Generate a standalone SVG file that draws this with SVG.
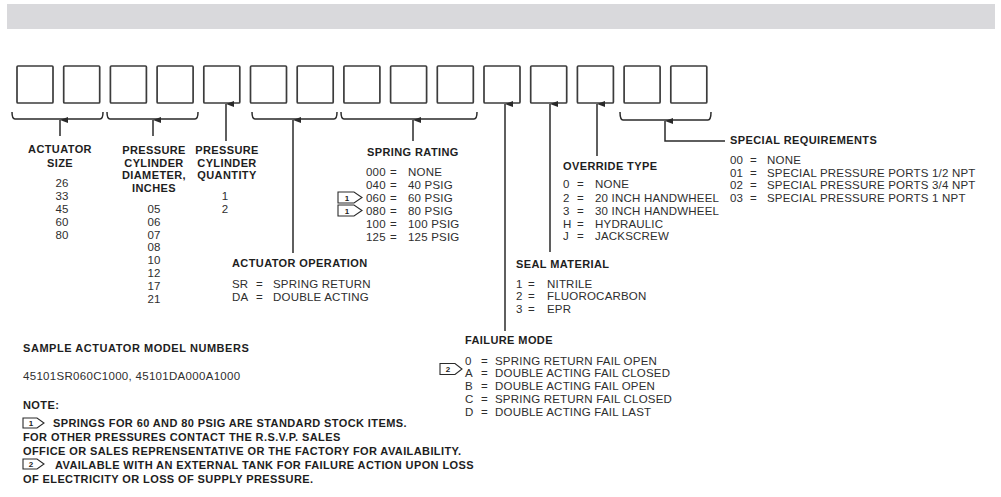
<svg xmlns="http://www.w3.org/2000/svg" width="1001" height="497" viewBox="0 0 1001 497">
<defs>
<style>
.box{fill:#fff;stroke:#3c3c3c;stroke-width:1.7}
.ln{fill:none;stroke:#2a2a2a;stroke-width:1.5}
.h{font-family:"Liberation Sans",Arial,sans-serif;font-weight:bold;font-size:11px;letter-spacing:0.4px;fill:#1e1e1e}
.v{font-family:"Liberation Sans",Arial,sans-serif;font-size:11.5px;letter-spacing:0.2px;fill:#2e2e2e}
.c{text-anchor:middle}
.flag{fill:#fff;stroke:#2a2a2a;stroke-width:1.1}
.ft{font-family:"Liberation Sans",Arial,sans-serif;font-weight:bold;font-size:8px;fill:#222;text-anchor:middle}
</style>
<marker id="ah" viewBox="0 0 6 8" refX="3" refY="0" markerWidth="6" markerHeight="8" orient="auto-start-reverse" markerUnits="userSpaceOnUse">
<path d="M0,8 L3,0 L6,8 Z" fill="#2a2a2a"/>
</marker>
</defs>
<rect width="1001" height="497" fill="#fff"/>
<rect id="band" x="7" y="4" width="988" height="25" fill="#d9d9dc"/>

<g id="boxes">
<rect class="box" x="17" y="66" width="36" height="37" rx="1"/>
<rect class="box" x="63.7" y="66" width="36" height="37" rx="1"/>
<rect class="box" x="110.4" y="66" width="36" height="37" rx="1"/>
<rect class="box" x="157.1" y="66" width="36" height="37" rx="1"/>
<rect class="box" x="203.8" y="66" width="36" height="37" rx="1"/>
<rect class="box" x="250.5" y="66" width="36" height="37" rx="1"/>
<rect class="box" x="297.2" y="66" width="36" height="37" rx="1"/>
<rect class="box" x="343.9" y="66" width="36" height="37" rx="1"/>
<rect class="box" x="390.6" y="66" width="36" height="37" rx="1"/>
<rect class="box" x="437.3" y="66" width="36" height="37" rx="1"/>
<rect class="box" x="484" y="66" width="36" height="37" rx="1"/>
<rect class="box" x="530.7" y="66" width="36" height="37" rx="1"/>
<rect class="box" x="577.4" y="66" width="36" height="37" rx="1"/>
<rect class="box" x="624.1" y="66" width="36" height="37" rx="1"/>
<rect class="box" x="670.8" y="66" width="36" height="37" rx="1"/>
</g>

<g id="connectors">
<path class="ln" d="M12,112 Q12,119 15,119 H100 Q103,119 103,112"/>
<path class="ln" d="M107,112 Q107,119 110,119 H195 Q198,119 198,112"/>
<path class="ln" d="M252,112 Q252,119 255,119 H334 Q337,119 337,112"/>
<path class="ln" d="M341,112 Q341,119 344,119 H474 Q477,119 477,112"/>
<path class="ln" d="M620,112 Q620,120 623,120 H708 Q711,120 711,112"/>
<line class="ln" x1="60" y1="136" x2="60" y2="120" marker-end="url(#ah)"/>
<line class="ln" x1="153" y1="136" x2="153" y2="120" marker-end="url(#ah)"/>
<line class="ln" x1="226" y1="141" x2="226" y2="104" marker-end="url(#ah)"/>
<line class="ln" x1="293" y1="253" x2="293" y2="120" marker-end="url(#ah)"/>
<line class="ln" x1="413" y1="141" x2="413" y2="120" marker-end="url(#ah)"/>
<line class="ln" x1="505" y1="331" x2="505" y2="104" marker-end="url(#ah)"/>
<line class="ln" x1="550" y1="252" x2="550" y2="104" marker-end="url(#ah)"/>
<line class="ln" x1="597" y1="156" x2="597" y2="104" marker-end="url(#ah)"/>
<path class="ln" d="M725,141 H665 V121" marker-end="url(#ah)"/>
</g>

<g id="actuator-size">
<text class="h c" x="60" y="153">ACTUATOR</text>
<text class="h c" x="60" y="167">SIZE</text>
<text class="v c" x="62" y="187">26</text>
<text class="v c" x="62" y="200">33</text>
<text class="v c" x="62" y="213">45</text>
<text class="v c" x="62" y="226">60</text>
<text class="v c" x="62" y="239">80</text>
</g>

<g id="cylinder-diameter">
<text class="h c" x="154" y="154">PRESSURE</text>
<text class="h c" x="154" y="167">CYLINDER</text>
<text class="h c" x="154" y="179">DIAMETER,</text>
<text class="h c" x="154" y="192">INCHES</text>
<text class="v c" x="154" y="213">05</text>
<text class="v c" x="154" y="226">06</text>
<text class="v c" x="154" y="239">07</text>
<text class="v c" x="154" y="251">08</text>
<text class="v c" x="154" y="264">10</text>
<text class="v c" x="154" y="277">12</text>
<text class="v c" x="154" y="290">17</text>
<text class="v c" x="154" y="303">21</text>
</g>

<g id="cylinder-quantity">
<text class="h c" x="227" y="154">PRESSURE</text>
<text class="h c" x="227" y="167">CYLINDER</text>
<text class="h c" x="227" y="179">QUANTITY</text>
<text class="v c" x="225" y="200">1</text>
<text class="v c" x="225" y="213">2</text>
</g>

<g id="actuator-operation">
<text class="h" x="232" y="267">ACTUATOR OPERATION</text>
<text class="v" y="288"><tspan x="232">SR</tspan><tspan x="256">=</tspan><tspan x="273">SPRING RETURN</tspan></text>
<text class="v" y="301"><tspan x="232">DA</tspan><tspan x="256">=</tspan><tspan x="273">DOUBLE ACTING</tspan></text>
</g>

<g id="spring-rating">
<text class="h" x="367" y="156">SPRING RATING</text>
<text class="v" y="176"><tspan x="366">000</tspan><tspan x="390">=</tspan><tspan x="408">NONE</tspan></text>
<text class="v" y="189"><tspan x="366">040</tspan><tspan x="390">=</tspan><tspan x="408">40 PSIG</tspan></text>
<text class="v" y="202"><tspan x="366">060</tspan><tspan x="390">=</tspan><tspan x="408">60 PSIG</tspan></text>
<text class="v" y="215"><tspan x="366">080</tspan><tspan x="390">=</tspan><tspan x="408">80 PSIG</tspan></text>
<text class="v" y="228"><tspan x="366">100</tspan><tspan x="390">=</tspan><tspan x="408">100 PSIG</tspan></text>
<text class="v" y="241"><tspan x="366">125</tspan><tspan x="390">=</tspan><tspan x="408">125 PSIG</tspan></text>
<path class="flag" d="M338,192 H354 L362,197.5 L354,203 H338 Z"/>
<text class="ft" x="347" y="200.5">1</text>
<path class="flag" d="M338,205 H354 L362,210.5 L354,216 H338 Z"/>
<text class="ft" x="347" y="213.5">1</text>
</g>

<g id="failure-mode">
<text class="h" x="465" y="344">FAILURE MODE</text>
<text class="v" y="365"><tspan x="465">0</tspan><tspan x="481">=</tspan><tspan x="495">SPRING RETURN FAIL OPEN</tspan></text>
<text class="v" y="377"><tspan x="465">A</tspan><tspan x="481">=</tspan><tspan x="495">DOUBLE ACTING FAIL CLOSED</tspan></text>
<text class="v" y="390"><tspan x="465">B</tspan><tspan x="481">=</tspan><tspan x="495">DOUBLE ACTING FAIL OPEN</tspan></text>
<text class="v" y="403"><tspan x="465">C</tspan><tspan x="481">=</tspan><tspan x="495">SPRING RETURN FAIL CLOSED</tspan></text>
<text class="v" y="416"><tspan x="465">D</tspan><tspan x="481">=</tspan><tspan x="495">DOUBLE ACTING FAIL LAST</tspan></text>
<path class="flag" d="M440,363.5 H455 L462,369 L455,374.5 H440 Z"/>
<text class="ft" x="448" y="372">2</text>
</g>

<g id="seal-material">
<text class="h" x="516" y="268">SEAL MATERIAL</text>
<text class="v" y="288"><tspan x="516">1</tspan><tspan x="528">=</tspan><tspan x="547">NITRILE</tspan></text>
<text class="v" y="300"><tspan x="516">2</tspan><tspan x="528">=</tspan><tspan x="547">FLUOROCARBON</tspan></text>
<text class="v" y="313"><tspan x="516">3</tspan><tspan x="528">=</tspan><tspan x="547">EPR</tspan></text>
</g>

<g id="override-type">
<text class="h" x="563" y="170">OVERRIDE TYPE</text>
<text class="v" y="188"><tspan x="563">0</tspan><tspan x="577">=</tspan><tspan x="595">NONE</tspan></text>
<text class="v" y="202"><tspan x="563">2</tspan><tspan x="577">=</tspan><tspan x="595">20 INCH HANDWHEEL</tspan></text>
<text class="v" y="215"><tspan x="563">3</tspan><tspan x="577">=</tspan><tspan x="595">30 INCH HANDWHEEL</tspan></text>
<text class="v" y="228"><tspan x="563">H</tspan><tspan x="577">=</tspan><tspan x="595">HYDRAULIC</tspan></text>
<text class="v" y="240"><tspan x="563">J</tspan><tspan x="577">=</tspan><tspan x="595">JACKSCREW</tspan></text>
</g>

<g id="special-requirements">
<text class="h" x="730" y="144">SPECIAL REQUIREMENTS</text>
<text class="v" y="164"><tspan x="730">00</tspan><tspan x="750">=</tspan><tspan x="767">NONE</tspan></text>
<text class="v" y="177"><tspan x="730">01</tspan><tspan x="750">=</tspan><tspan x="767">SPECIAL PRESSURE PORTS 1/2 NPT</tspan></text>
<text class="v" y="189"><tspan x="730">02</tspan><tspan x="750">=</tspan><tspan x="767">SPECIAL PRESSURE PORTS 3/4 NPT</tspan></text>
<text class="v" y="202"><tspan x="730">03</tspan><tspan x="750">=</tspan><tspan x="767">SPECIAL PRESSURE PORTS 1 NPT</tspan></text>
</g>

<g id="sample">
<text class="h" x="23" y="352" style="letter-spacing:0.55px">SAMPLE ACTUATOR MODEL NUMBERS</text>
<text class="v" x="23" y="380" style="letter-spacing:0.3px">45101SR060C1000, 45101DA000A1000</text>
</g>

<g id="notes">
<text class="h" x="23" y="409">NOTE:</text>
<path class="flag" d="M23,418 H37 L44,423 L37,428 H23 Z"/>
<text class="ft" x="31" y="426">1</text>
<text class="h" x="53" y="427">SPRINGS FOR 60 AND 80 PSIG ARE STANDARD STOCK ITEMS.</text>
<text class="h" x="23" y="441">FOR OTHER PRESSURES CONTACT THE R.S.V.P. SALES</text>
<text class="h" x="23" y="455">OFFICE OR SALES REPRENSENTATIVE OR THE FACTORY FOR AVAILABILITY.</text>
<path class="flag" d="M23,459 H37 L44,464 L37,469 H23 Z"/>
<text class="ft" x="31" y="467">2</text>
<text class="h" x="55" y="469">AVAILABLE WITH AN EXTERNAL TANK FOR FAILURE ACTION UPON LOSS</text>
<text class="h" x="23" y="483">OF ELECTRICITY OR LOSS OF SUPPLY PRESSURE.</text>
</g>
</svg>
